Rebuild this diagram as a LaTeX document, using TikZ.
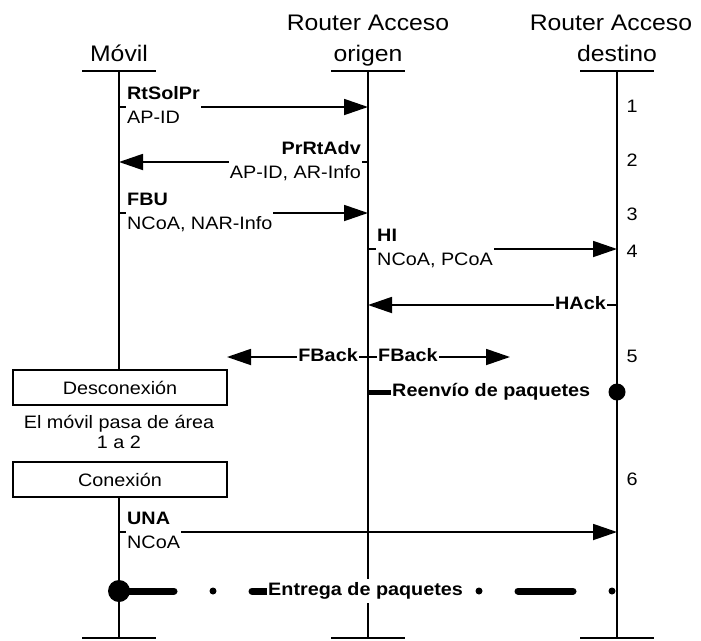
\documentclass[tikz,border=0pt]{standalone}
\usepackage{fontspec}
\setmainfont{Liberation Sans}[FakeStretch=1.1]
\usetikzlibrary{arrows.meta}
\begin{document}
\begin{tikzpicture}[x=1pt,y=-1pt,
  life/.style={line width=1.8pt},
  msg/.style={line width=1.8pt,-{Triangle[length=24pt,width=16pt]}},
  lab/.style={fill=white,inner xsep=1pt,inner ysep=0pt,font=\fontsize{18}{23.5}\selectfont},
  hdr/.style={font=\fontsize{22.5}{31}\selectfont,inner sep=0pt,anchor=base},
  num/.style={font=\fontsize{18}{23.5}\selectfont,inner sep=0pt,anchor=base},
  stepbox/.style={draw,line width=1.5pt,minimum width=214pt,minimum height=35pt,inner sep=0pt,font=\fontsize{18}{23.5}\selectfont},
  bigdot/.style={circle,fill=black,inner sep=0pt}
]
\useasboundingbox (0,0) rectangle (701,640);

% headers
\node[hdr] (hM) at (119,61) {Móvil};
\node[hdr] (hO1) at (368,30) {Router Acceso};
\node[hdr] (hO2) at (368,61) {origen};
\node[hdr] (hD1) at (611,30) {Router Acceso};
\node[hdr] (hD2) at (617,61) {destino};

% lifeline coordinates
\coordinate (Mt) at (119,71); \coordinate (Mb) at (119,638);
\coordinate (Ot) at (368,71); \coordinate (Ob) at (368,638);
\coordinate (Dt) at (617,71); \coordinate (Db) at (617,638);

% boxes
\node[stepbox] (dis) at (120,387.5) {Desconexión};
\node[stepbox] (con) at (120,479.5) {Conexión};
\node[align=center,inner sep=0pt,font=\fontsize{18}{20}\selectfont] (area) at (119,434) {\strut El móvil pasa de área\\\strut 1 a 2};

% bars
\foreach \c in {Mt,Mb,Ot,Ob,Dt,Db}{
  \draw[life] ([xshift=-37pt]\c) -- ([xshift=37pt]\c);
}
% lifelines
\draw[life] (Mt) -- (Mt |- dis.north);
\draw[life] (Mt |- con.south) -- (Mb);
\draw[life] (Ot) -- (Ob);
\draw[life] (Dt) -- (Db);

% numbers
\node[num] (n1) at (632,112) {1};
\node[num] (n2) at (632,166) {2};
\node[num] (n3) at (632,220) {3};
\node[num] (n4) at (632,257) {4};
\node[num] (n5) at (632,362) {5};
\node[num] (n6) at (632,485) {6};

% 1 RtSolPr
\coordinate (m1) at (119,107); \coordinate (o1) at (368,107);
\draw[msg] (m1) -- (o1);
\node[lab,anchor=west,align=left] (l1) at (126,107) {\strut\textbf{RtSolPr}\\\strut AP-ID};

% 2 PrRtAdv
\coordinate (m2) at (119,162); \coordinate (o2) at (368,162);
\draw[msg] (o2) -- (m2);
\node[lab,anchor=east,align=right] (l2) at (362,162) {\strut\textbf{PrRtAdv}\\\strut AP-ID, AR-Info};

% 3 FBU
\coordinate (m3) at (119,213); \coordinate (o3) at (368,213);
\draw[msg] (m3) -- (o3);
\node[lab,anchor=west,align=left] (l3) at (126,213) {\strut\textbf{FBU}\\\strut NCoA, NAR-Info};

% 4 HI
\coordinate (o4) at (368,249); \coordinate (d4) at (617,249);
\draw[msg] (o4) -- (d4);
\node[lab,anchor=west,align=left] (l4) at (376,249) {\strut\textbf{HI}\\\strut NCoA, PCoA};

% 5 HAck
\coordinate (o5) at (368,305); \coordinate (d5) at (617,305);
\draw[msg] (d5) -- (o5);
\node[lab,anchor=east] (l5) at (607,305) {\strut\textbf{HAck}};

% 6 FBack
\coordinate (o6) at (368,357);
\coordinate (fbl) at (227,357); \coordinate (fbr) at (510,357);
\draw[msg] (o6) -- (fbl);
\draw[msg] (o6) -- (fbr);
\node[lab,anchor=east] (l6a) at (359,357) {\strut\textbf{FBack}};
\node[lab,anchor=west] (l6b) at (377,357) {\strut\textbf{FBack}};

% 7 Reenvio
\coordinate (o7) at (368,392);
\node[lab,anchor=west] (l7) at (391,392) {\strut\textbf{Reenvío de paquetes}};
\draw[line width=5pt] (o7) -- (l7.west);
\node[bigdot,minimum size=17pt] (dd7) at (617,392) {};

% 8 UNA
\coordinate (m8) at (119,532); \coordinate (d8) at (617,532);
\draw[msg] (m8) -- (d8);
\node[lab,anchor=west,align=left] (l8) at (126,532) {\strut\textbf{UNA}\\\strut NCoA};

% 9 Entrega
\coordinate (m9) at (119,591); \coordinate (d9) at (617,591);
\draw[line width=7pt,line cap=round,dash pattern=on 55pt off 39pt on 0pt off 39pt] (m9) -- (d9);
\node[bigdot,minimum size=22pt] (dm9) at (m9) {};
\node[lab,anchor=west] (l9) at (267,591) {\strut\textbf{Entrega de paquetes}};
\end{tikzpicture}
\end{document}
